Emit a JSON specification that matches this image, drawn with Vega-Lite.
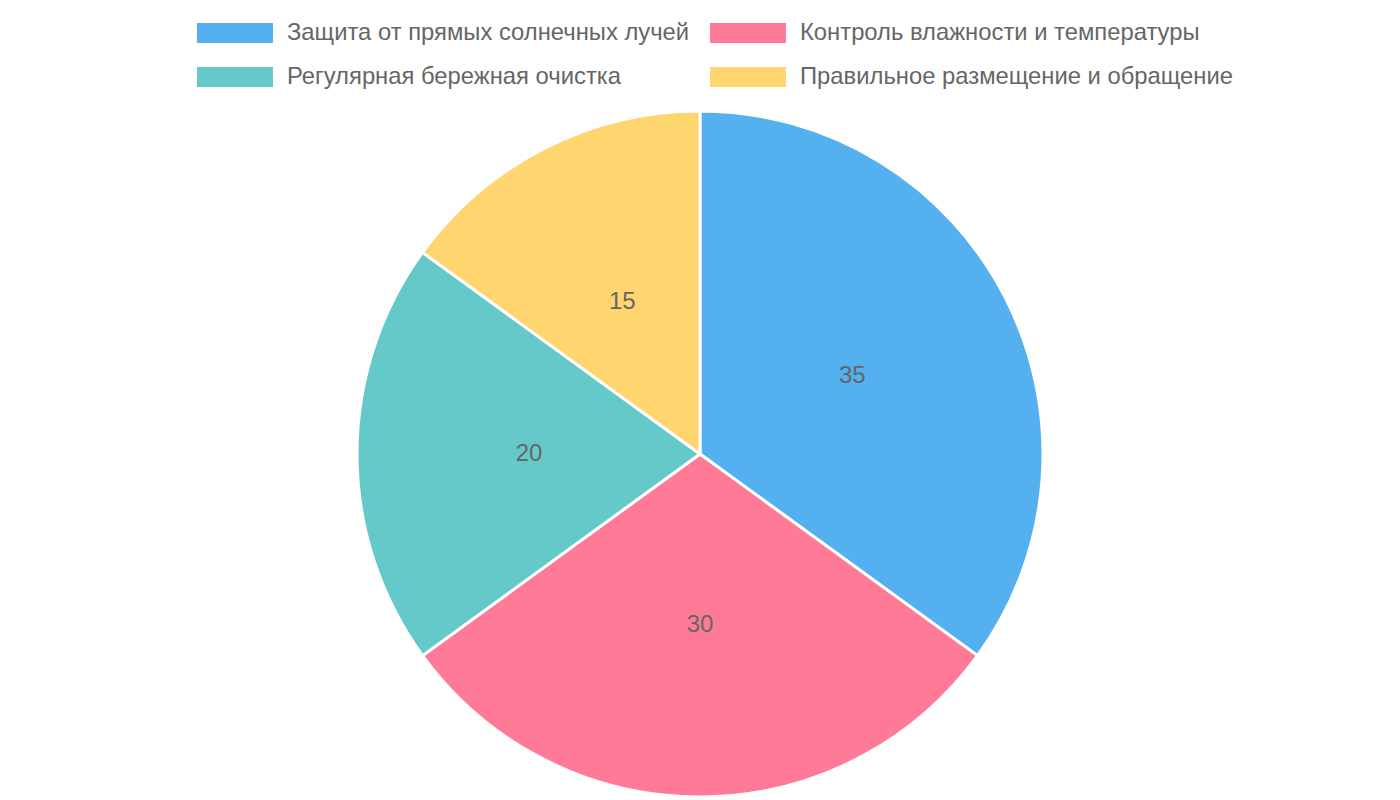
{
  "$schema": "https://vega.github.io/schema/vega-lite/v6.json",
  "width": 1400,
  "height": 692,
  "autosize": {"type": "none"},
  "padding": {"top": 108, "left": 0, "right": 0, "bottom": 0},
  "background": "#ffffff",
  "data": {
    "values": [
      {"category": "Защита от прямых солнечных лучей", "value": 35, "order": 1},
      {"category": "Контроль влажности и температуры", "value": 30, "order": 2},
      {"category": "Регулярная бережная очистка", "value": 20, "order": 3},
      {"category": "Правильное размещение и обращение", "value": 15, "order": 4}
    ]
  },
  "encoding": {
    "theta": {"field": "value", "type": "quantitative", "stack": true},
    "order": {"field": "order", "type": "quantitative"}
  },
  "layer": [
    {
      "mark": {"type": "arc", "outerRadius": 343, "stroke": "#ffffff", "strokeWidth": 3},
      "encoding": {
        "color": {
          "field": "category",
          "type": "nominal",
          "sort": null,
          "scale": {
            "domain": [
              "Защита от прямых солнечных лучей",
              "Контроль влажности и температуры",
              "Регулярная бережная очистка",
              "Правильное размещение и обращение"
            ],
            "range": ["#54B0EE", "#FF7A96", "#66C9C9", "#FFD56F"]
          },
          "legend": {
            "title": null,
            "orient": "none",
            "legendX": 197,
            "legendY": -113,
            "direction": "horizontal",
            "columns": 2,
            "gridAlign": "none",
            "symbolType": "M-1,-0.263H1V0.263H-1Z",
            "symbolSize": 5776,
            "symbolStrokeWidth": 0,
            "symbolOpacity": 1,
            "labelFont": "Liberation Sans",
            "labelFontSize": 23.8,
            "labelColor": "#666666",
            "labelLimit": 1000,
            "labelOffset": 14,
            "columnPadding": 20,
            "rowPadding": -6
          }
        }
      }
    },
    {
      "mark": {"type": "text", "radius": 171, "font": "Liberation Sans", "fontSize": 24, "fill": "#666666"},
      "encoding": {
        "text": {"field": "value", "type": "quantitative"}
      }
    }
  ],
  "config": {"view": {"stroke": null}, "legend": {"gridAlign": "none"}}
}
